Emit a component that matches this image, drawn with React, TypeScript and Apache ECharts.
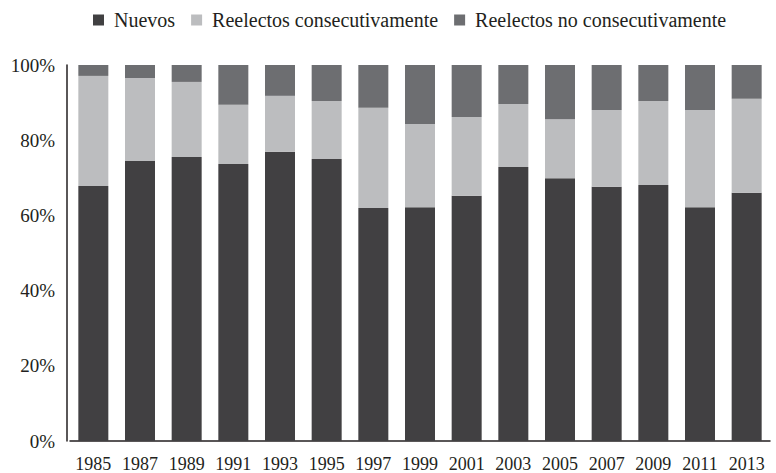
import React, { useEffect, useRef } from "react";
import * as echarts from "echarts";

const years = ["1985","1987","1989","1991","1993","1995","1997","1999","2001","2003","2005","2007","2009","2011","2013"];
const nuevos = [67.8, 74.5, 75.5, 73.7, 76.9, 75.0, 62.0, 62.2, 65.2, 72.9, 69.9, 67.6, 68.1, 62.2, 66.0];
const reelectosConsec = [29.3, 22.0, 20.0, 15.7, 14.9, 15.4, 26.6, 22.1, 21.0, 16.7, 15.7, 20.4, 22.3, 25.8, 25.0];
const reelectosNoConsec = [2.9, 3.5, 4.5, 10.6, 8.2, 9.6, 11.4, 15.7, 13.8, 10.4, 14.4, 12.0, 9.6, 12.0, 9.0];
const yTicks = [0, 20, 40, 60, 80, 100];

const FONT = "Liberation Serif";

export default function App() {
  const ref = useRef<HTMLDivElement>(null);
  useEffect(() => {
    if (!ref.current) return;
    const chart = echarts.init(ref.current, null, { renderer: "svg" });
    chart.setOption({
      animation: false,
      backgroundColor: "#ffffff",
      textStyle: { fontFamily: FONT },
      legend: {
        top: 5,
        left: 88,
        icon: "rect",
        itemWidth: 11,
        itemHeight: 11,
        itemGap: 16,
        textStyle: { fontFamily: FONT, fontSize: 20, color: "#231f20", padding: [0, 0, 0, 5] },
        data: ["Nuevos", "Reelectos consecutivamente", "Reelectos no consecutivamente"],
      },
      grid: { left: 70, right: 6, top: 65, bottom: 32, containLabel: false },
      xAxis: {
        type: "category",
        data: years,
        axisLine: { lineStyle: { color: "#231f20", width: 1.5 } },
        axisTick: { show: false },
        axisLabel: { interval: 0, hideOverlap: false, fontFamily: FONT, fontSize: 18, color: "#231f20", margin: 14 },
      },
      yAxis: {
        type: "value",
        min: yTicks[0],
        max: yTicks[yTicks.length - 1],
        interval: 20,
        offset: 3,
        axisLine: { show: true, lineStyle: { color: "#231f20", width: 1.5 } },
        axisTick: { show: false },
        splitLine: { show: false },
        axisLabel: { fontFamily: FONT, fontSize: 19, color: "#231f20", margin: 12, formatter: "{value}%" },
      },
      series: [
        { name: "Nuevos", type: "bar", stack: "s", data: nuevos, barWidth: 30, itemStyle: { color: "#414042" } },
        { name: "Reelectos consecutivamente", type: "bar", stack: "s", data: reelectosConsec, barWidth: 30, itemStyle: { color: "#bcbdbf" } },
        { name: "Reelectos no consecutivamente", type: "bar", stack: "s", data: reelectosNoConsec, barWidth: 30, itemStyle: { color: "#6d6e71" } },
      ],
    });
    return () => chart.dispose();
  }, []);
  return <div ref={ref} style={{ width: 776, height: 473, position: "absolute", left: 0, top: 0 }} />;
}
